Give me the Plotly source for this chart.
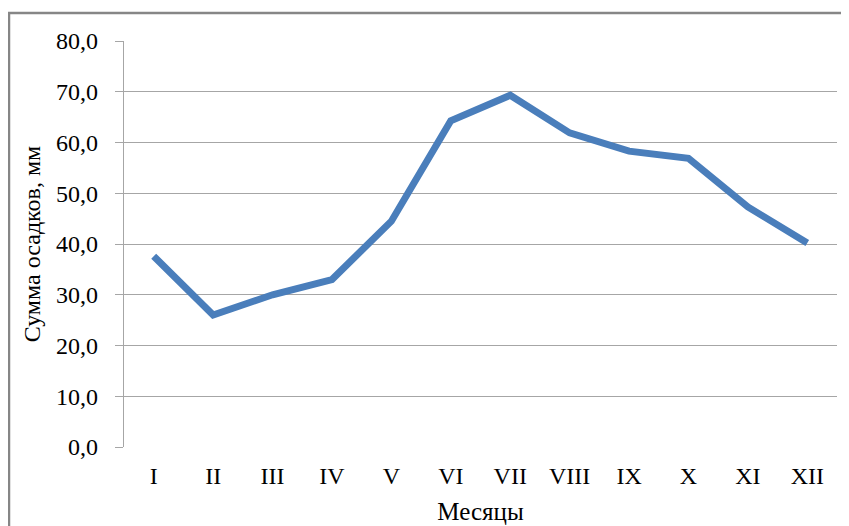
import plotly.graph_objects as go

months = ["I", "II", "III", "IV", "V", "VI", "VII", "VIII", "IX", "X", "XI", "XII"]
precip = [37.6, 26.0, 30.0, 33.0, 44.5, 64.3, 69.3, 61.9, 58.3, 56.9, 47.3, 40.2]
y_ticks = [0, 10, 20, 30, 40, 50, 60, 70, 80]
y_tick_labels = ["0,0", "10,0", "20,0", "30,0", "40,0", "50,0", "60,0", "70,0", "80,0"]

W, H = 849, 526
# page has an 8px body margin, so figure coords = page coords - 8
L, R, T, B = 116, 20, 33, 87
pw, ph = W - L - R, H - T - B

fig = go.Figure()
fig.add_trace(go.Scatter(
    x=months, y=precip, mode="lines",
    line=dict(color="#4a7ebb", width=7),
    hoverinfo="skip", showlegend=False,
))

tick_font = dict(family="Liberation Serif", size=24, color="#000000")
xt_font = dict(family="Liberation Serif", size=25, color="#000000")
yt_font = dict(family="Liberation Serif", size=24, color="#000000")

fig.update_layout(
    width=W, height=H,
    margin=dict(l=L, r=R, t=T, b=B),
    paper_bgcolor="white", plot_bgcolor="white",
    font=tick_font,
    showlegend=False,
    xaxis=dict(
        type="category", showgrid=False, zeroline=False,
        showline=False, ticks="", tickfont=tick_font,
        ticklabelstandoff=12,
        title=dict(text="Месяцы", font=xt_font, standoff=14),
        range=[-0.5, 11.5],
    ),
    yaxis=dict(
        range=[0, 80], tickvals=y_ticks, ticktext=y_tick_labels,
        showgrid=True, gridcolor="#a6a6a6", gridwidth=1.2,
        zeroline=False, showline=True, linecolor="#a6a6a6", linewidth=1.2,
        ticks="outside", ticklen=8, tickcolor="#a6a6a6", tickwidth=1.2,
        ticklabelstandoff=12,
        tickfont=tick_font,
        title=dict(text="Сумма осадков, мм", font=yt_font, standoff=8),
    ),
)

x0 = (1 - L) / pw
y1 = (H - B - 5) / ph
fig.add_shape(type="rect", xref="paper", yref="paper",
              x0=x0, x1=1.2, y0=-0.5, y1=y1,
              line=dict(color="#868686", width=2.5), fillcolor="rgba(0,0,0,0)", layer="below")

fig.write_html("out.html")
